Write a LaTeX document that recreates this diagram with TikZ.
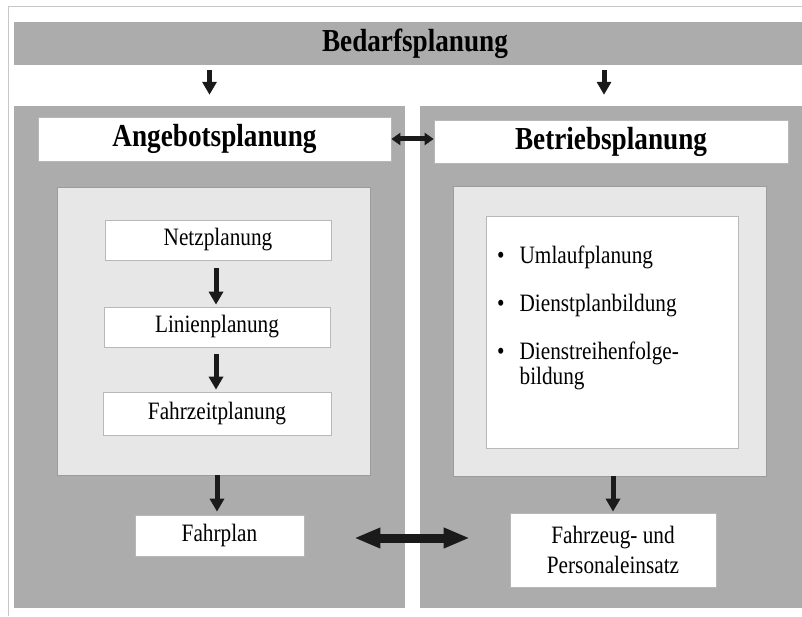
\documentclass[tikz,border=0pt]{standalone}
\usepackage{fontspec}
\setmainfont{Liberation Serif}[FakeStretch=0.85]
\usetikzlibrary{arrows.meta}
\definecolor{dunkel}{HTML}{ABACAB}
\definecolor{hell}{HTML}{E7E7E7}
\definecolor{rand}{HTML}{9C9C9C}
\definecolor{pfeil}{HTML}{1A1A1A}
\newcommand\punkt{\textbullet\hspace{15pt}}
\begin{document}
\begin{tikzpicture}[x=1pt,y=1pt,
    feld/.style={fill=dunkel,inner sep=0pt},
    innen/.style={fill=hell,draw=rand,line width=.7pt,inner sep=0pt},
    kasten/.style={fill=white,draw=black!28,line width=.7pt,inner sep=0pt,
        font=\fontsize{25}{26}\selectfont},
    titel/.style={kasten,font=\fontsize{32}{34}\selectfont\bfseries},
    pf/.style={draw=pfeil,line width=5pt,-{Triangle[length=13pt,width=14pt]}},
    dpf/.style={draw=pfeil,line width=5pt,
        {Triangle[length=9pt,width=12pt]}-{Triangle[length=9pt,width=12pt]}},
    dpfgross/.style={draw=pfeil,line width=9pt,
        {Triangle[length=26pt,width=19pt]}-{Triangle[length=26pt,width=19pt]}}]
\useasboundingbox (0,0) rectangle (802,616);
\fill[white] (0,0) rectangle (802,616);
\draw[black!22,line width=1pt] (8,0) -- (8,609) -- (802,609);

% Bedarf oben
\node[feld,minimum width=802,minimum height=43,
    font=\fontsize{32}{34}\selectfont\bfseries] (bedarf) at (415,572.5) {Bedarfsplanung};

% die beiden Felder
\node[feld,minimum width=391,minimum height=502] (linksfeld) at (209.5,259) {};
\node[feld,minimum width=392,minimum height=502] (rechtsfeld) at (616,259) {};

\node[titel,minimum width=353,minimum height=44] (angebot) at (214.5,477) {Angebotsplanung};
\node[titel,minimum width=354,minimum height=43] (betrieb) at (611,474.5) {Betriebsplanung};

% links
\node[innen,minimum width=313,minimum height=288] (linksinnen) at (213.5,285) {};
\node[kasten,minimum width=226,minimum height=40] (netz) at (218,376) {Netzplanung};
\node[kasten,minimum width=226,minimum height=40] (linien) at (217,289) {Linienplanung};
\node[kasten,minimum width=228,minimum height=43] (fahrzeit) at (217,202.5) {Fahrzeitplanung};
\node[kasten,minimum width=169,minimum height=41] (fahrplan) at (219.5,80.5) {Fahrplan};

% rechts
\node[innen,minimum width=313,minimum height=290] (rechtsinnen) at (609.5,285) {};
\node[kasten,minimum width=252,minimum height=232] (listbox) at (612,284) {};
\node[anchor=north west,inner sep=0pt,align=left,font=\fontsize{25}{25}\selectfont] (liste) at (497,370.5)
    {\punkt Umlaufplanung\\[23pt]
     \punkt Dienstplanbildung\\[23pt]
     \punkt Dienstreihenfolge-\\
     \phantom{\punkt}bildung};
\node[kasten,minimum width=206,minimum height=74,align=center,
    font=\fontsize{25}{30}\selectfont] (einsatz) at (613,66) {Fahrzeug- und\\Personaleinsatz};

% Pfeile
\draw[pf,shorten <=5pt,shorten >=11pt] (linksfeld.north |- bedarf.south) -- (linksfeld.north);
\draw[pf,shorten <=5pt,shorten >=11pt] ([xshift=-7pt]betrieb.north |- bedarf.south)
    -- ([xshift=-7pt]betrieb.north |- rechtsfeld.north);
\draw[dpf] (angebot.east) -- (angebot.east -| betrieb.west);
\draw[pf,shorten <=8pt,shorten >=2pt] ([xshift=-2pt]netz.south) -- ([xshift=-2pt]netz.south |- linien.north);
\draw[pf,shorten <=7pt,shorten >=2pt] ([xshift=-1pt]linien.south) -- ([xshift=-1pt]linien.south |- fahrzeit.north);
\draw[pf,shorten >=3pt] ([xshift=-2.5pt]fahrplan.north |- linksinnen.south) -- ([xshift=-2.5pt]fahrplan.north);
\draw[pf,shorten >=1pt] (einsatz.north |- rechtsinnen.south) -- (einsatz.north);
\draw[dpfgross,shorten <=50pt,shorten >=40pt] ([yshift=-2.5pt]fahrplan.east) -- ([yshift=-2.5pt]fahrplan.east -| einsatz.west);
\end{tikzpicture}
\end{document}
